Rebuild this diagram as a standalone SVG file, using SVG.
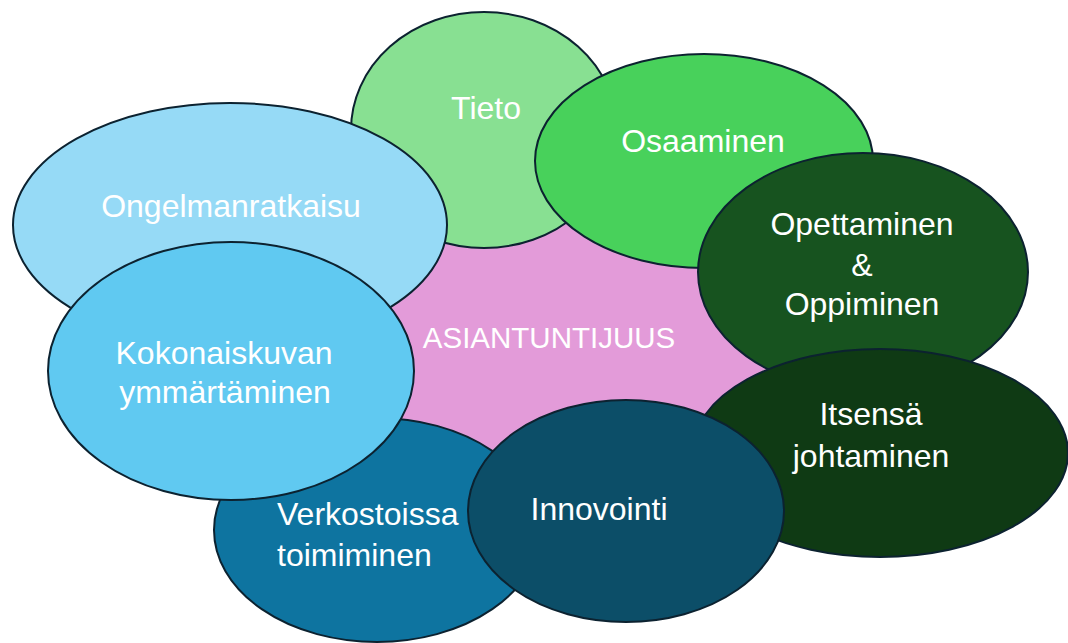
<svg xmlns="http://www.w3.org/2000/svg" width="1068" height="643" viewBox="0 0 1068 643">
<style>
.n ellipse{stroke:#0c2230;stroke-width:2}
.t{font-family:"Liberation Sans",Arial,sans-serif;font-size:32px;fill:#ffffff;text-anchor:middle}
.c{font-family:"Liberation Sans",Arial,sans-serif;font-size:29.5px;fill:#ffffff;text-anchor:middle}
</style>
<rect width="1068" height="643" fill="#ffffff"/>
<g id="asiantuntijuus" class="n">
<ellipse cx="555" cy="335" rx="228" ry="125" fill="#e39bd9" style="stroke:none"/>
<text class="c" x="549" y="348">ASIANTUNTIJUUS</text>
</g>
<g id="tieto" class="n">
<ellipse cx="484" cy="130" rx="133" ry="118" fill="#88e092"/>
<text class="t" x="486" y="119">Tieto</text>
</g>
<g id="osaaminen" class="n">
<ellipse cx="704" cy="161" rx="169" ry="107" fill="#48d15b"/>
<text class="t" x="703" y="152">Osaaminen</text>
</g>
<g id="ongelmanratkaisu" class="n">
<ellipse cx="230" cy="225" rx="217" ry="122" fill="#96daf6"/>
<text class="t" x="231" y="217">Ongelmanratkaisu</text>
</g>
<g id="opettaminen" class="n">
<ellipse cx="863" cy="272" rx="165" ry="119" fill="#17531f"/>
<text class="t" x="862" y="235">Opettaminen</text>
<text class="t" x="862" y="276">&amp;</text>
<text class="t" x="862" y="315">Oppiminen</text>
</g>
<g id="itsensa" class="n">
<ellipse cx="880" cy="453" rx="188" ry="104" fill="#0f3a14"/>
<text class="t" x="871" y="425">Itsensä</text>
<text class="t" x="871" y="467">johtaminen</text>
</g>
<g id="verkostoissa" class="n">
<ellipse cx="377" cy="530" rx="163" ry="112" fill="#0e74a0"/>
<text class="t" x="277" y="525" style="text-anchor:start">Verkostoissa</text>
<text class="t" x="277" y="566" style="text-anchor:start">toimiminen</text>
</g>
<g id="kokonaiskuvan" class="n">
<ellipse cx="231" cy="371" rx="183" ry="129" fill="#60c9f1"/>
<text class="t" x="224" y="364">Kokonaiskuvan</text>
<text class="t" x="225" y="403">ymmärtäminen</text>
</g>
<g id="innovointi" class="n">
<ellipse cx="626" cy="511" rx="158" ry="111" fill="#0c4e68"/>
<text class="t" x="599" y="520">Innovointi</text>
</g>
<g id="connectors"></g>
</svg>
